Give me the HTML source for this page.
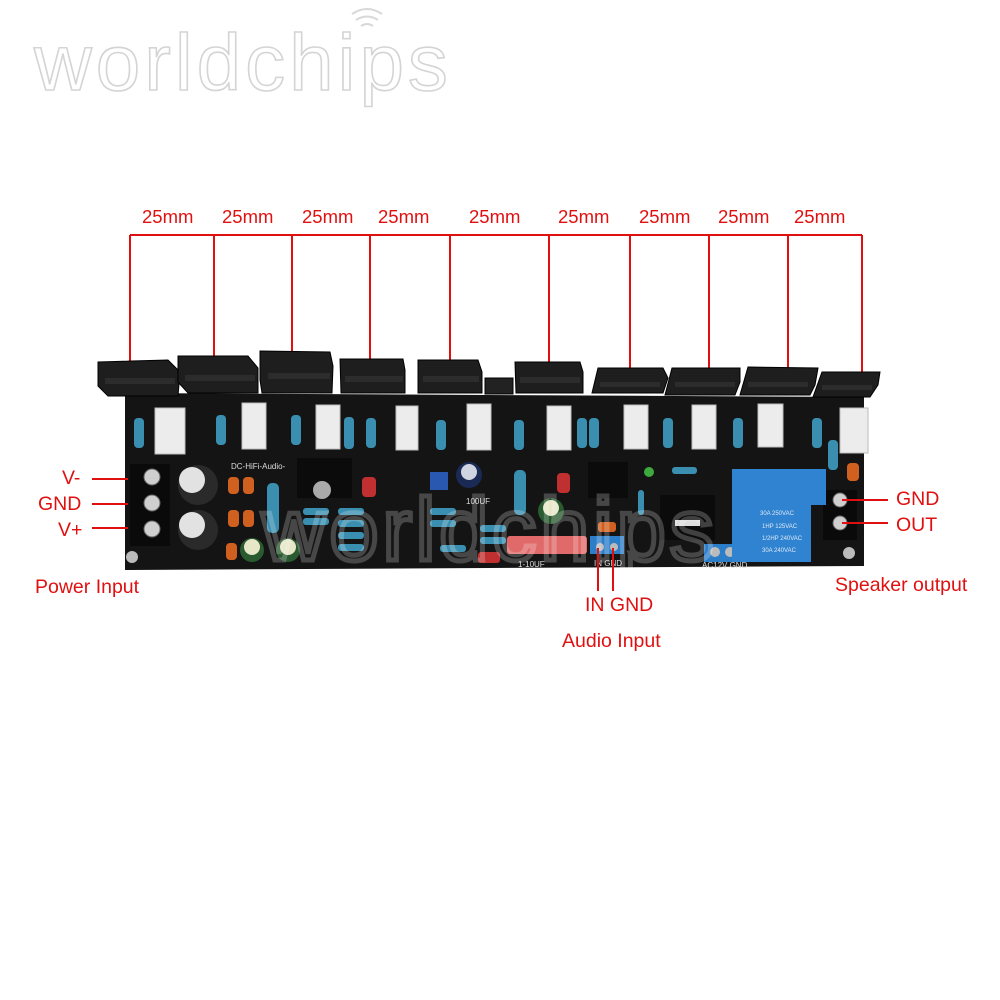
<!DOCTYPE html>
<html><head><meta charset="utf-8"><style>
html,body{margin:0;padding:0;background:#fff;width:1000px;height:1000px;overflow:hidden}
svg{display:block}
text{font-family:"Liberation Sans",sans-serif}
</style></head><body>
<svg width="1000" height="1000" viewBox="0 0 1000 1000" xmlns="http://www.w3.org/2000/svg">
<!-- watermark -->
<text x="34" y="90" font-size="80" fill="#fff" stroke="#d4d4d4" stroke-width="1.6" letter-spacing="4">worldchips</text>
<g fill="none" stroke="#d8d8d8" stroke-width="2"><path d="M352 14 q15 -10 30 0"/><path d="M356 20 q11 -7 22 0"/><path d="M361 26 q6 -4 12 0"/></g>

<!-- dimension lines -->
<g stroke="#e01010" stroke-width="2" fill="none">
<line x1="130" y1="235" x2="862" y2="235"/>
<line x1="130" y1="235" x2="130" y2="362"/>
<line x1="214" y1="235" x2="214" y2="362"/>
<line x1="292" y1="235" x2="292" y2="362"/>
<line x1="370" y1="235" x2="370" y2="362"/>
<line x1="450" y1="235" x2="450" y2="362"/>
<line x1="549" y1="235" x2="549" y2="362"/>
<line x1="630" y1="235" x2="630" y2="374"/>
<line x1="709" y1="235" x2="709" y2="374"/>
<line x1="788" y1="235" x2="788" y2="374"/>
<line x1="862" y1="235" x2="862" y2="378"/>
</g>
<g fill="#e01010" font-size="18.5">
<text x="142" y="223">25mm</text><text x="222" y="223">25mm</text><text x="302" y="223">25mm</text><text x="378" y="223">25mm</text>
<text x="469" y="223">25mm</text><text x="558" y="223">25mm</text><text x="639" y="223">25mm</text><text x="718" y="223">25mm</text><text x="794" y="223">25mm</text>
</g>

<!-- board -->
<path d="M125 393 L864 397 L864 566 L125 570 Z" fill="#141414"/>
<!-- transistors -->
<g fill="#1e1e1e" stroke="#000" stroke-width="1">
<path d="M98 362 L168 360 L180 372 L178 396 L108 396 L98 386 Z"/>
<path d="M178 356 L248 356 L258 368 L258 393 L188 393 L178 382 Z"/>
<path d="M260 351 L330 352 L333 366 L332 393 L262 393 L260 380 Z"/>
<path d="M340 359 L403 359 L405 370 L405 393 L341 393 Z"/>
<path d="M418 360 L478 360 L482 372 L482 393 L418 393 Z"/>
<path d="M515 362 L580 362 L583 372 L583 393 L516 393 Z"/>
<path d="M598 368 L663 368 L668 378 L663 393 L592 393 Z"/>
<path d="M672 368 L740 368 L740 382 L735 395 L665 395 Z"/>
<path d="M748 367 L818 368 L815 385 L810 395 L740 395 Z"/>
<path d="M822 372 L880 372 L878 385 L870 397 L813 397 Z"/>
<rect x="485" y="378" width="28" height="16" fill="#222"/>
</g>
<g fill="#2c2c2c"><rect x="105" y="378" width="70" height="6"/><rect x="185" y="375" width="70" height="6"/><rect x="268" y="373" width="62" height="6"/><rect x="345" y="376" width="58" height="6"/><rect x="423" y="376" width="56" height="6"/><rect x="520" y="377" width="60" height="6"/><rect x="600" y="382" width="60" height="5"/><rect x="675" y="382" width="60" height="5"/><rect x="748" y="382" width="60" height="5"/><rect x="822" y="385" width="50" height="5"/></g>
<!-- white cement resistors -->
<g fill="#ececec" stroke="#bbb" stroke-width="1">
<rect x="155" y="408" width="30" height="46"/><rect x="242" y="403" width="24" height="46"/><rect x="316" y="405" width="24" height="44"/>
<rect x="396" y="406" width="22" height="44"/><rect x="467" y="404" width="24" height="46"/><rect x="547" y="406" width="24" height="44"/>
<rect x="624" y="405" width="24" height="44"/><rect x="692" y="405" width="24" height="44"/><rect x="758" y="404" width="25" height="43"/><rect x="840" y="408" width="28" height="45"/>
</g>
<!-- blue resistors vertical -->
<g fill="#3a8fb0">
<rect x="134" y="418" width="10" height="30" rx="4"/><rect x="216" y="415" width="10" height="30" rx="4"/><rect x="291" y="415" width="10" height="30" rx="4"/>
<rect x="344" y="417" width="10" height="32" rx="4"/><rect x="366" y="418" width="10" height="30" rx="4"/><rect x="436" y="420" width="10" height="30" rx="4"/>
<rect x="514" y="420" width="10" height="30" rx="4"/><rect x="577" y="418" width="10" height="30" rx="4"/><rect x="589" y="418" width="10" height="30" rx="4"/>
<rect x="663" y="418" width="10" height="30" rx="4"/><rect x="733" y="418" width="10" height="30" rx="4"/><rect x="812" y="418" width="10" height="30" rx="4"/>
<rect x="828" y="440" width="10" height="30" rx="4"/><rect x="267" y="483" width="12" height="50" rx="5"/><rect x="514" y="470" width="12" height="45" rx="5"/>
</g>
<!-- blue resistors horizontal rows -->
<g fill="#3a8fb0">
<rect x="303" y="508" width="26" height="7" rx="3"/><rect x="303" y="518" width="26" height="7" rx="3"/><rect x="338" y="508" width="26" height="7" rx="3"/><rect x="338" y="520" width="26" height="7" rx="3"/><rect x="338" y="532" width="26" height="7" rx="3"/><rect x="338" y="544" width="26" height="7" rx="3"/>
<rect x="430" y="508" width="26" height="7" rx="3"/><rect x="430" y="520" width="26" height="7" rx="3"/><rect x="440" y="545" width="26" height="7" rx="3"/><rect x="480" y="525" width="26" height="7" rx="3"/><rect x="480" y="537" width="26" height="7" rx="3"/>
<rect x="672" y="467" width="25" height="7" rx="3"/><rect x="638" y="490" width="6" height="25" rx="3"/>
</g>
<!-- terminal blocks -->
<rect x="130" y="464" width="40" height="82" fill="#0a0a0a"/>
<g fill="#cfcfcf" stroke="#666"><circle cx="152" cy="477" r="8"/><circle cx="152" cy="503" r="8"/><circle cx="152" cy="529" r="8"/></g>
<rect x="823" y="490" width="34" height="50" fill="#0a0a0a"/>
<g fill="#cfcfcf" stroke="#666"><circle cx="840" cy="500" r="7"/><circle cx="840" cy="523" r="7"/></g>
<!-- big caps -->
<g><circle cx="198" cy="485" r="20" fill="#2a2a2a"/><circle cx="192" cy="480" r="13" fill="#e2e2e2"/>
<circle cx="198" cy="530" r="20" fill="#2a2a2a"/><circle cx="192" cy="525" r="13" fill="#e2e2e2"/></g>
<!-- green caps -->
<g fill="#2a5a30"><circle cx="252" cy="550" r="12"/><circle cx="288" cy="550" r="12"/><circle cx="551" cy="511" r="13"/><circle cx="469" cy="475" r="13" fill="#1b2a55"/></g>
<g fill="#e7e7c8"><circle cx="252" cy="547" r="8"/><circle cx="288" cy="547" r="8"/><circle cx="551" cy="508" r="8"/><circle cx="469" cy="472" r="8" fill="#cfd4e0"/></g>
<!-- orange caps -->
<g fill="#d06020"><rect x="228" y="477" width="11" height="17" rx="4"/><rect x="243" y="477" width="11" height="17" rx="4"/><rect x="228" y="510" width="11" height="17" rx="4"/><rect x="243" y="510" width="11" height="17" rx="4"/><rect x="226" y="543" width="11" height="17" rx="4"/><rect x="598" y="522" width="18" height="10" rx="3"/><rect x="847" y="463" width="12" height="18" rx="4"/></g>
<g fill="#c03030"><rect x="362" y="477" width="14" height="20" rx="4"/><rect x="557" y="473" width="13" height="20" rx="4"/><rect x="478" y="552" width="22" height="11" rx="3"/></g>
<!-- big red film cap -->
<rect x="507" y="536" width="80" height="18" rx="3" fill="#e06a6a"/>
<!-- heatsinks -->
<rect x="297" y="458" width="55" height="40" fill="#0b0b0b"/><circle cx="322" cy="490" r="9" fill="#aaa"/>
<rect x="588" y="462" width="40" height="36" fill="#0b0b0b"/>
<rect x="660" y="495" width="55" height="45" fill="#0b0b0b"/><rect x="675" y="520" width="25" height="6" fill="#ddd"/>
<!-- blue pot -->
<rect x="430" y="472" width="18" height="18" fill="#2858b0"/>
<!-- blue terminal blocks -->
<rect x="590" y="536" width="34" height="18" fill="#2d7ec8"/>
<g fill="#bbb"><circle cx="600" cy="547" r="4"/><circle cx="614" cy="547" r="4"/></g>
<rect x="704" y="544" width="36" height="18" fill="#2d7ec8"/>
<g fill="#bbb"><circle cx="715" cy="552" r="5"/><circle cx="730" cy="552" r="5"/></g>
<!-- relay -->
<path d="M732 469 L826 469 L826 505 L811 505 L811 562 L732 562 Z" fill="#2f83d0"/>
<g fill="#dde8f5" font-size="6"><text x="760" y="515">30A 250VAC</text><text x="762" y="528">1HP 125VAC</text><text x="762" y="540">1/2HP 240VAC</text><text x="762" y="552">30A 240VAC</text></g>
<!-- silkscreen -->
<g fill="#ddd" font-family="Liberation Serif,serif" font-size="8"><text x="231" y="469">DC-HiFi-Audio-</text><text x="518" y="567">1-10UF</text><text x="594" y="566">IN  GND</text><text x="702" y="568">AC12V  GND</text><text x="466" y="504">100UF</text></g>
<circle cx="649" cy="472" r="5" fill="#3caa3c"/>
<circle cx="132" cy="557" r="6" fill="#bbb"/><circle cx="849" cy="553" r="6" fill="#bbb"/>

<!-- center watermark (subtle) -->
<text x="262" y="560" font-size="88" fill="none" stroke="#ffffff" stroke-opacity="0.22" stroke-width="5" letter-spacing="4">worldchips</text>

<!-- labels & leaders -->
<g stroke="#e01010" stroke-width="2">
<line x1="92" y1="479" x2="128" y2="479"/><line x1="92" y1="504" x2="128" y2="504"/><line x1="92" y1="528" x2="128" y2="528"/>
<line x1="598" y1="548" x2="598" y2="591"/><line x1="613" y1="548" x2="613" y2="591"/>
<line x1="842" y1="500" x2="888" y2="500"/><line x1="842" y1="523" x2="888" y2="523"/>
</g>
<g fill="#e01010" font-size="19.5">
<text x="62" y="484">V-</text><text x="38" y="510">GND</text><text x="58" y="536">V+</text>
<text x="35" y="593">Power Input</text>
<text x="585" y="611">IN GND</text><text x="562" y="647">Audio Input</text>
<text x="896" y="505">GND</text><text x="896" y="531">OUT</text>
<text x="835" y="591">Speaker output</text>
</g>
</svg>
</body></html>
